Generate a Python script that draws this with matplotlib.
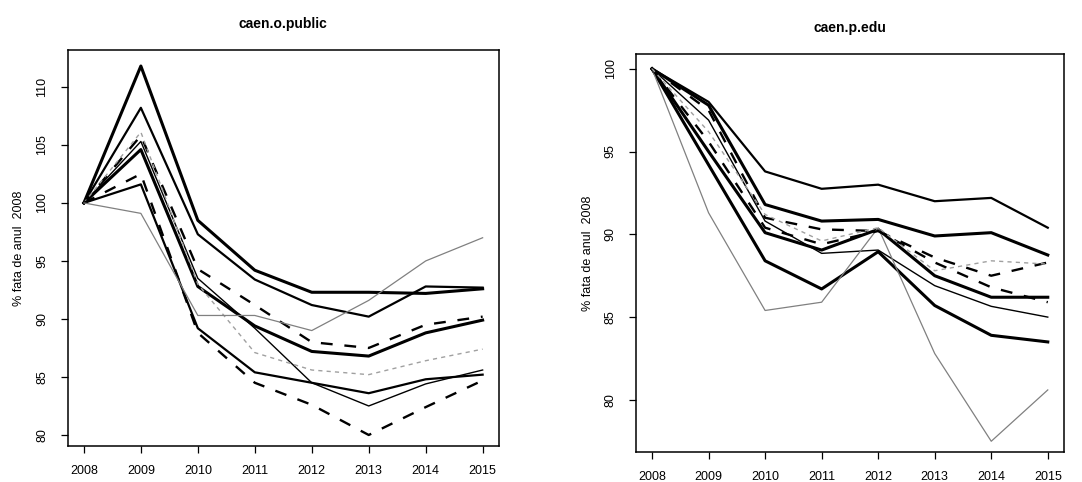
import matplotlib
matplotlib.use("Agg")
import matplotlib.pyplot as plt

plt.rcParams['font.family'] = ['Liberation Sans', 'DejaVu Sans']

ani = [2008, 2009, 2010, 2011, 2012, 2013, 2014, 2015]

# caen.o.public
pub_1 = [100, 111.8, 98.5, 94.2, 92.3, 92.3, 92.2, 92.6]
pub_2 = [100, 108.2, 97.3, 93.4, 91.2, 90.2, 92.8, 92.7]
pub_3 = [100, 105.8, 94.3, 91.2, 88.0, 87.5, 89.5, 90.2]
pub_4 = [100, 104.6, 92.8, 89.4, 87.2, 86.8, 88.8, 89.9]
pub_5 = [100, 105.3, 93.5, 89.2, 84.5, 82.5, 84.4, 85.6]
pub_6 = [100, 106.1, 93.0, 87.1, 85.6, 85.2, 86.4, 87.4]
pub_7 = [100, 102.5, 88.8, 84.5, 82.6, 80.0, 82.4, 84.7]
pub_8 = [100, 101.6, 89.2, 85.4, 84.5, 83.6, 84.8, 85.2]
pub_9 = [100, 99.1, 90.3, 90.3, 89.0, 91.6, 95.0, 97.0]

# caen.p.edu
edu_1 = [100, 98.0, 93.8, 92.75, 93.0, 92.0, 92.2, 90.4]
edu_2 = [100, 97.8, 91.8, 90.8, 90.9, 89.9, 90.1, 88.75]
edu_3 = [100, 95.0, 90.1, 89.05, 90.3, 87.5, 86.2, 86.2]
edu_4 = [100, 96.9, 90.8, 88.85, 89.05, 86.9, 85.65, 85.0]
edu_5 = [100, 94.2, 88.4, 86.7, 88.95, 85.7, 83.9, 83.5]
edu_6 = [100, 91.3, 85.4, 85.9, 90.4, 82.8, 77.5, 80.6]
edu_7 = [100, 97.5, 91.0, 90.3, 90.2, 88.6, 87.5, 88.3]
edu_8 = [100, 95.6, 90.4, 89.4, 90.2, 88.3, 86.8, 85.9]
edu_9 = [100, 96.2, 91.2, 89.6, 90.4, 87.8, 88.4, 88.2]

# stil: (culoare, grosime, tip linie)
gros = ('black', 2.2, '-')
mediu = ('black', 1.6, '-')
subtire = ('black', 1.0, '-')
punct = ('black', 1.7, (0, (5, 5)))
gri = ('#808080', 0.9, '-')
gri_p = ('#a0a0a0', 1.0, (0, (3, 3)))

serii_pub = [(pub_1, gros), (pub_2, mediu), (pub_3, punct), (pub_4, gros),
             (pub_5, subtire), (pub_6, gri_p), (pub_7, punct), (pub_8, mediu),
             (pub_9, gri)]
serii_edu = [(edu_1, mediu), (edu_2, gros), (edu_3, gros), (edu_4, subtire),
             (edu_5, gros), (edu_6, gri), (edu_7, punct), (edu_8, punct),
             (edu_9, gri_p)]

fig = plt.figure(figsize=(10.82, 4.82), dpi=100)
ax1 = fig.add_axes([0.0628, 0.0747, 0.398, 0.822])
ax2 = fig.add_axes([0.588, 0.0622, 0.395, 0.826])


def deseneaza(ax, serii, titlu, yticks, ylim):
    for valori, (c, lw, ls) in serii:
        ax.plot(ani, valori, color=c, linewidth=lw, linestyle=ls)
    ax.set_xlim(2007.72, 2015.28)
    ax.set_ylim(*ylim)
    ax.set_xticks(ani)
    ax.set_xticklabels([str(a) for a in ani], fontsize=9)
    ax.set_yticks(yticks)
    ax.set_yticklabels([str(v) for v in yticks], fontsize=9, rotation=90,
                       va='center')
    ax.tick_params(axis='both', direction='out', length=5, width=0.9,
                   pad=9)
    for s in ax.spines.values():
        s.set_linewidth(1.1)
    ax.set_ylabel("% fata de anul  2008", fontsize=9, labelpad=8)
    ax.set_title(titlu, fontsize=10, fontweight='bold', pad=16)


deseneaza(ax1, serii_pub, "caen.o.public", [80, 85, 90, 95, 100, 105, 110],
          (79.05, 113.2))
deseneaza(ax2, serii_edu, "caen.p.edu", [80, 85, 90, 95, 100],
          (76.85, 100.9))

plt.savefig("out.png", dpi=100)
